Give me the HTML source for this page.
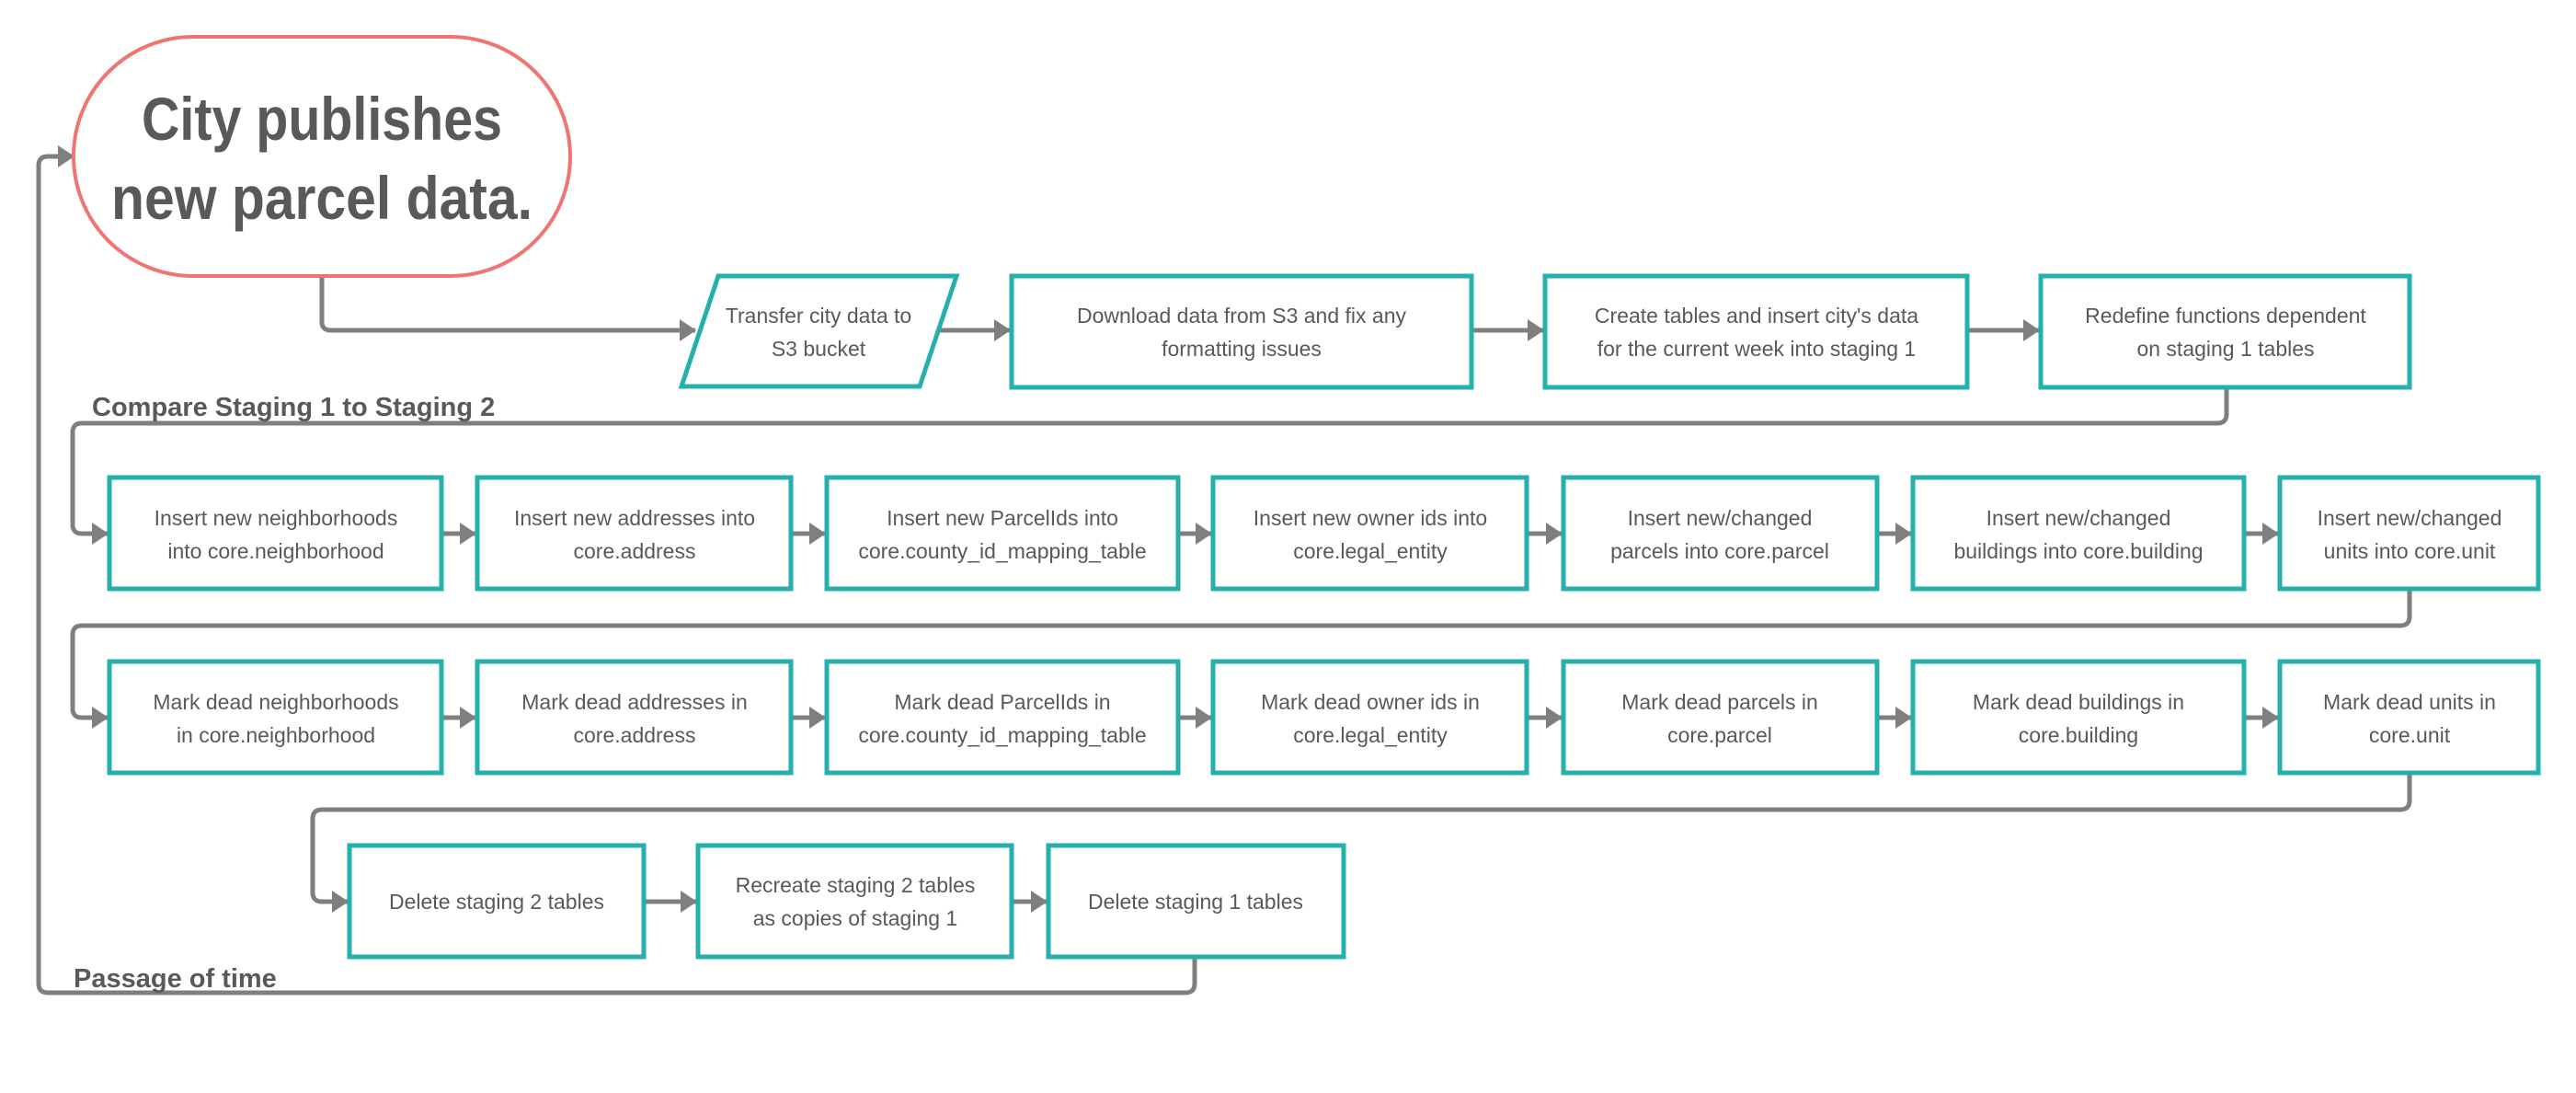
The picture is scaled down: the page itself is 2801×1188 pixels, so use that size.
<!DOCTYPE html>
<html><head><meta charset="utf-8"><style>
html,body{margin:0;padding:0;background:#fff;}
svg{display:block}
text{font-family:"Liberation Sans",sans-serif;fill:#595959;}
.t{font-size:23px;text-anchor:middle;}
.b{fill:#fff;stroke:#26b0ad;stroke-width:5;}
.c{fill:none;stroke:#7f7f7f;stroke-width:5;stroke-linejoin:round;}
</style></head><body>
<svg width="2801" height="1188" viewBox="0 0 2801 1188" xmlns="http://www.w3.org/2000/svg">
<defs>
<marker id="a" markerWidth="5" markerHeight="6" refX="3.4" refY="2.4" orient="auto" markerUnits="strokeWidth">
<path d="M0,0 L3.6,2.4 L0,4.8 z" fill="#7f7f7f"/>
</marker>
</defs>

<!-- connectors -->
<path class="c" d="M350,300 V350 Q350,359 360,359 H756" marker-end="url(#a)"/>
<path class="c" d="M1018,359 H1098" marker-end="url(#a)"/>
<path class="c" d="M1600,359 H1678" marker-end="url(#a)"/>
<path class="c" d="M2139,359 H2217" marker-end="url(#a)"/>
<path class="c" d="M2421,421 V450 Q2421,460 2411,460 H89 Q79,460 79,470 V570 Q79,580 89,580 H117" marker-end="url(#a)"/>
<path class="c" d="M2620,640 V670 Q2620,680 2610,680 H89 Q79,680 79,690 V770 Q79,780 89,780 H117" marker-end="url(#a)"/>
<path class="c" d="M2620,840 V870 Q2620,880 2610,880 H350 Q340,880 340,890 V970 Q340,980 350,980 H378" marker-end="url(#a)"/>
<path class="c" d="M1299,1041 V1069 Q1299,1079 1289,1079 H52 Q42,1079 42,1069 V180 Q42,170 52,170 H80" marker-end="url(#a)"/>
<g>
<path class="c" d="M480,580 H517" marker-end="url(#a)"/>
<path class="c" d="M860,580 H897" marker-end="url(#a)"/>
<path class="c" d="M1281,580 H1317" marker-end="url(#a)"/>
<path class="c" d="M1660,580 H1698" marker-end="url(#a)"/>
<path class="c" d="M2041,580 H2078" marker-end="url(#a)"/>
<path class="c" d="M2440,580 H2477" marker-end="url(#a)"/>
</g>
<g transform="translate(0,200)">
<path class="c" d="M480,580 H517" marker-end="url(#a)"/>
<path class="c" d="M860,580 H897" marker-end="url(#a)"/>
<path class="c" d="M1281,580 H1317" marker-end="url(#a)"/>
<path class="c" d="M1660,580 H1698" marker-end="url(#a)"/>
<path class="c" d="M2041,580 H2078" marker-end="url(#a)"/>
<path class="c" d="M2440,580 H2477" marker-end="url(#a)"/>
</g>
<path class="c" d="M700,980 H757" marker-end="url(#a)"/>
<path class="c" d="M1100,980 H1138" marker-end="url(#a)"/>

<!-- start oval -->
<rect x="80" y="40" width="540" height="260" rx="130" ry="130" fill="#fff" stroke="#f07470" stroke-width="4"/>
<text x="154" y="152" textLength="392" lengthAdjust="spacingAndGlyphs" style="font-size:66px;font-weight:bold;">City publishes</text>
<text x="121" y="238" textLength="458" lengthAdjust="spacingAndGlyphs" style="font-size:66px;font-weight:bold;">new parcel data.</text>

<!-- row 1 -->
<polygon class="b" points="781,300 1040,300 1000,420 741,420"/>
<text class="t" x="890" y="351">Transfer  city data to</text>
<text class="t" x="890" y="387">S3 bucket</text>
<rect class="b" x="1100" y="300" width="500" height="121"/>
<text class="t" x="1350" y="351">Download data from S3 and fix any</text>
<text class="t" x="1350" y="387">formatting issues</text>
<rect class="b" x="1680" y="300" width="459" height="121"/>
<text class="t" x="1910" y="351">Create tables and insert city's data</text>
<text class="t" x="1910" y="387">for the current week into staging 1</text>
<rect class="b" x="2219" y="300" width="401" height="121"/>
<text class="t" x="2420" y="351">Redefine functions dependent</text>
<text class="t" x="2420" y="387">on staging 1 tables</text>

<text x="100" y="452" style="font-size:29px;font-weight:bold;">Compare Staging 1 to Staging 2</text>
<text x="80" y="1073" style="font-size:29px;font-weight:bold;">Passage of time</text>

<!-- row 2 -->
<rect class="b" x="119" y="519" width="361" height="121"/>
<text class="t" x="300" y="571">Insert new neighborhoods</text><text class="t" x="300" y="607">into core.neighborhood</text>
<rect class="b" x="519" y="519" width="341" height="121"/>
<text class="t" x="690" y="571">Insert new addresses into</text><text class="t" x="690" y="607">core.address</text>
<rect class="b" x="899" y="519" width="382" height="121"/>
<text class="t" x="1090" y="571">Insert new ParcelIds into</text><text class="t" x="1090" y="607">core.county_id_mapping_table</text>
<rect class="b" x="1319" y="519" width="341" height="121"/>
<text class="t" x="1490" y="571">Insert new owner ids into</text><text class="t" x="1490" y="607">core.legal_entity</text>
<rect class="b" x="1700" y="519" width="341" height="121"/>
<text class="t" x="1870" y="571">Insert new/changed</text><text class="t" x="1870" y="607">parcels into core.parcel</text>
<rect class="b" x="2080" y="519" width="360" height="121"/>
<text class="t" x="2260" y="571">Insert new/changed</text><text class="t" x="2260" y="607">buildings into core.building</text>
<rect class="b" x="2479" y="519" width="281" height="121"/>
<text class="t" x="2620" y="571">Insert new/changed</text><text class="t" x="2620" y="607">units into core.unit</text>

<!-- row 3 -->
<rect class="b" x="119" y="719" width="361" height="121"/>
<text class="t" x="300" y="771">Mark dead neighborhoods</text><text class="t" x="300" y="807">in core.neighborhood</text>
<rect class="b" x="519" y="719" width="341" height="121"/>
<text class="t" x="690" y="771">Mark dead addresses in</text><text class="t" x="690" y="807">core.address</text>
<rect class="b" x="899" y="719" width="382" height="121"/>
<text class="t" x="1090" y="771">Mark dead ParcelIds in</text><text class="t" x="1090" y="807">core.county_id_mapping_table</text>
<rect class="b" x="1319" y="719" width="341" height="121"/>
<text class="t" x="1490" y="771">Mark dead owner ids in</text><text class="t" x="1490" y="807">core.legal_entity</text>
<rect class="b" x="1700" y="719" width="341" height="121"/>
<text class="t" x="1870" y="771">Mark dead parcels in</text><text class="t" x="1870" y="807">core.parcel</text>
<rect class="b" x="2080" y="719" width="360" height="121"/>
<text class="t" x="2260" y="771">Mark dead buildings in</text><text class="t" x="2260" y="807">core.building</text>
<rect class="b" x="2479" y="719" width="281" height="121"/>
<text class="t" x="2620" y="771">Mark dead units in</text><text class="t" x="2620" y="807">core.unit</text>

<!-- row 4 -->
<rect class="b" x="380" y="919" width="320" height="121"/>
<text class="t" x="540" y="988">Delete staging 2 tables</text>
<rect class="b" x="759" y="919" width="341" height="121"/>
<text class="t" x="930" y="970">Recreate staging 2 tables</text><text class="t" x="930" y="1006">as copies of staging 1</text>
<rect class="b" x="1140" y="919" width="321" height="121"/>
<text class="t" x="1300" y="988">Delete staging 1 tables</text>
</svg>
</body></html>
